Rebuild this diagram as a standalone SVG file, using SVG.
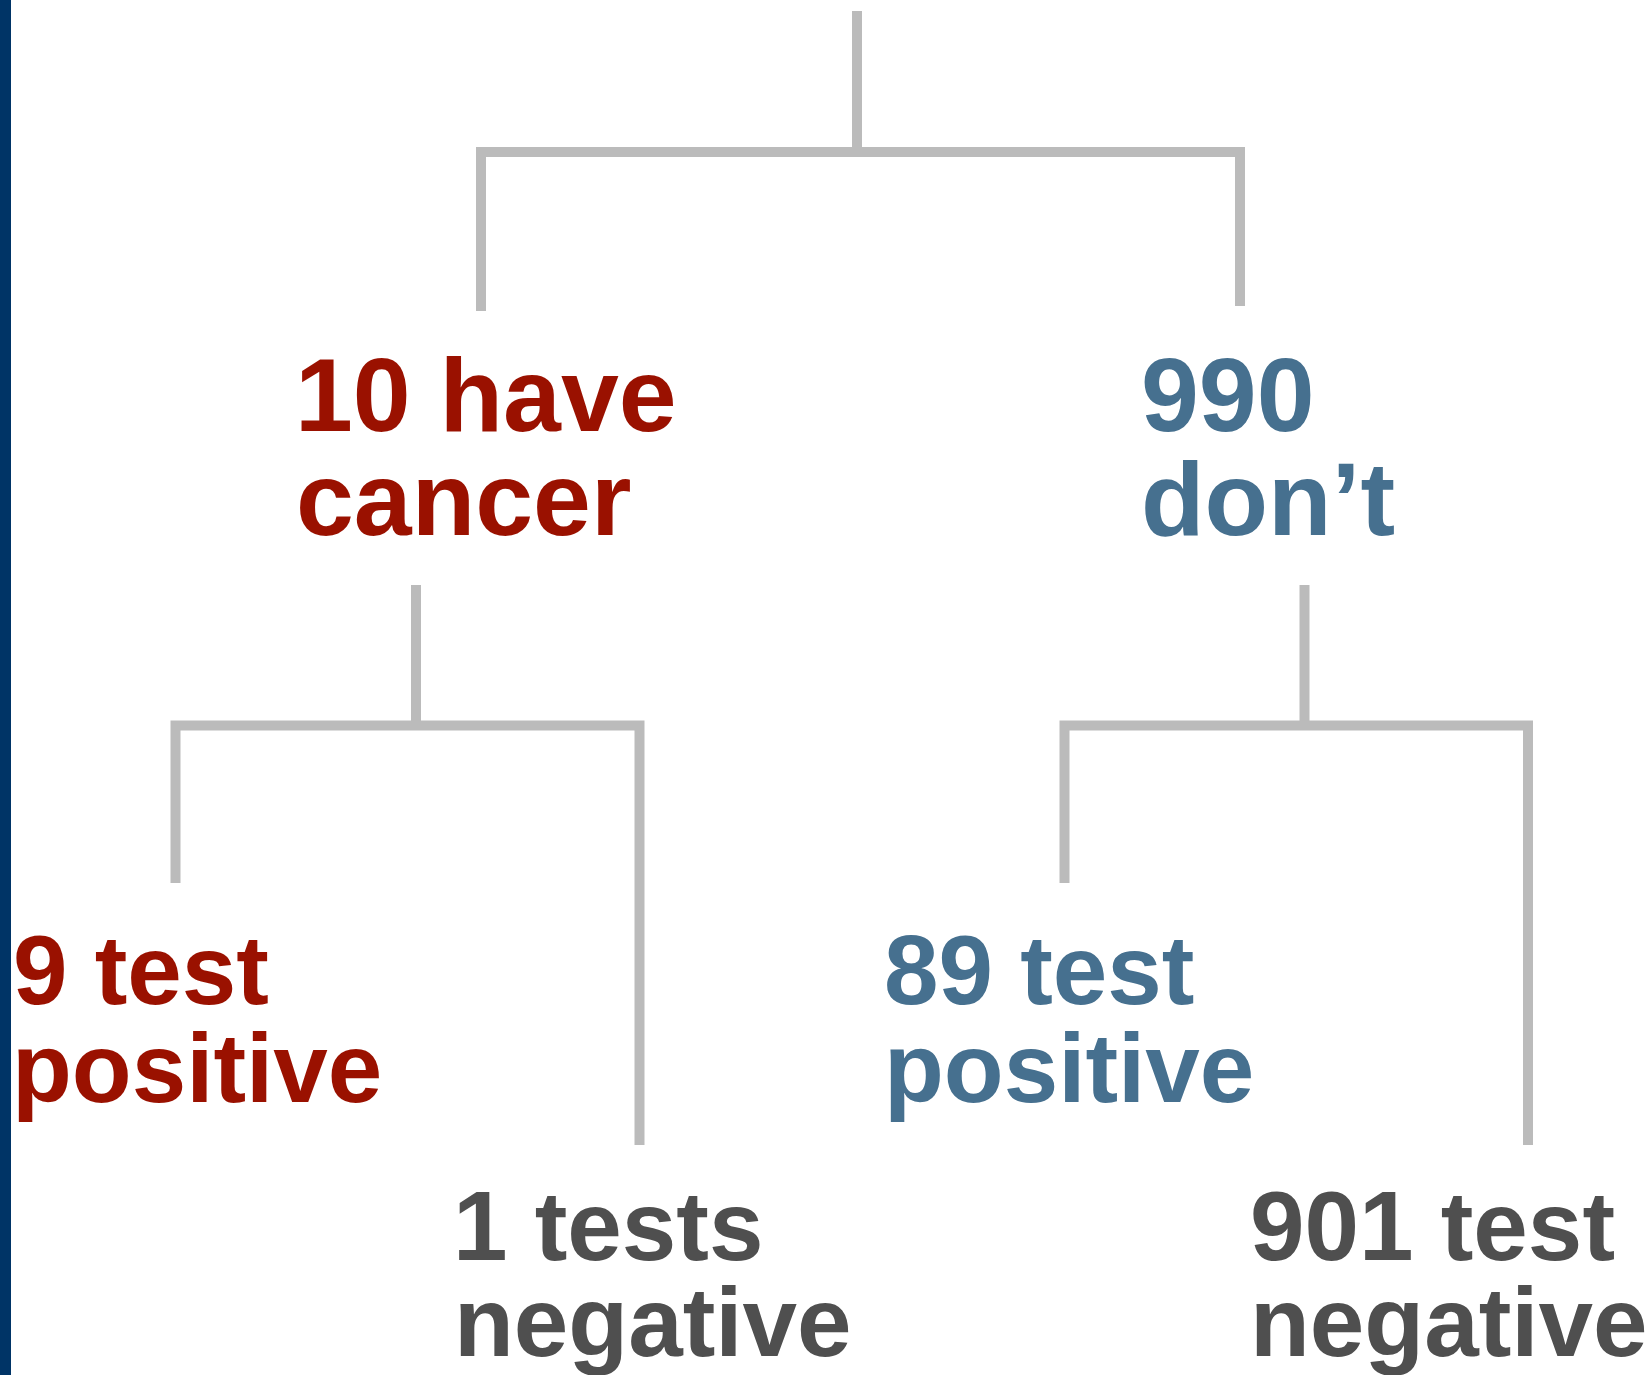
<svg xmlns="http://www.w3.org/2000/svg" width="1652" height="1375" viewBox="0 0 1652 1375">
<style>
.ln{fill:none;stroke:#bbbbbb;stroke-width:10;stroke-linejoin:miter;stroke-linecap:butt}
.t{font-family:"Liberation Sans",Arial,sans-serif;font-weight:bold}
.big{font-size:104px}
.sm{font-size:98px}
.red{fill:#9a1100}
.blue{fill:#46708f}
.gray{fill:#4f4f4f}
</style>
<rect x="0" y="0" width="1652" height="1375" fill="#ffffff"/>
<rect x="0" y="0" width="11" height="1375" fill="#003466"/>
<g id="connectors">
<path class="ln" d="M857,11 V152"/>
<path class="ln" d="M481,311 V152 H1240 V306"/>
<path class="ln" d="M416,585 V725.5"/>
<path class="ln" d="M175.5,883 V725.5 H639.5 V1145"/>
<path class="ln" d="M1304.5,585 V725.5"/>
<path class="ln" d="M1064.5,883 V725.5 H1528 V1145"/>
</g>
<g id="have-cancer">
<text class="t big red" x="295" y="431">10 have</text>
<text class="t big red" x="296" y="535">cancer</text>
</g>
<g id="dont">
<text class="t big blue" x="1141" y="431">990</text>
<text class="t big blue" x="1141" y="535">don’t</text>
</g>
<g id="cancer-positive">
<text class="t sm red" x="13" y="1004">9 test</text>
<text class="t sm red" x="12" y="1102">positive</text>
</g>
<g id="cancer-negative">
<text class="t sm gray" x="453" y="1260">1 tests</text>
<text class="t sm gray" x="454" y="1356">negative</text>
</g>
<g id="healthy-positive">
<text class="t sm blue" x="884" y="1004">89 test</text>
<text class="t sm blue" x="884" y="1102">positive</text>
</g>
<g id="healthy-negative">
<text class="t sm gray" x="1250" y="1260">901 test</text>
<text class="t sm gray" x="1250" y="1356">negative</text>
</g>
</svg>
